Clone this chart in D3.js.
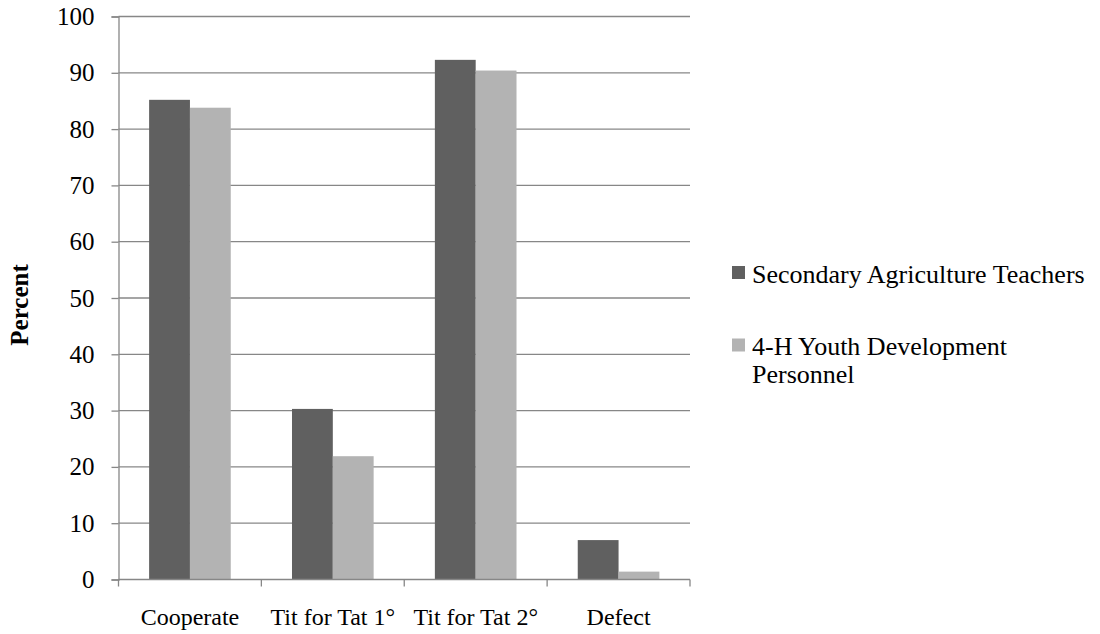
<!DOCTYPE html>
<html><head><meta charset="utf-8">
<script src="https://cdn.jsdelivr.net/npm/d3@7"></script>
<style>body{margin:0;background:#fff}svg{display:block}</style>
</head><body>
<script>
const categories = ["Cooperate", "Tit for Tat 1°", "Tit for Tat 2°", "Defect"];
const seriesNames = ["Secondary Agriculture Teachers", "4-H Youth Development Personnel"];
const teachers = [85.2, 30.3, 92.3, 7.0];
const youth = [83.8, 21.9, 90.4, 1.4];
const yTicks = [0, 10, 20, 30, 40, 50, 60, 70, 80, 90, 100];
const colors = ["#606060", "#b3b3b3"];

const FONT = '"Liberation Serif", "Times New Roman", serif';
const W = 1100, H = 634;
const m = {left: 118.5, right: 690, top: 16.5, bottom: 579.5};
const svg = d3.select("body").append("svg").attr("width", W).attr("height", H);

const x = d3.scaleBand().domain(categories).range([m.left, m.right]).paddingInner(0).paddingOuter(0);
const y = d3.scaleLinear().domain([0, 100]).range([m.bottom, m.top]);
const bw = x.bandwidth() / 3.5;
const x1 = d3.scaleBand().domain([0, 1]).range([bw * 0.75, bw * 2.75]).padding(0);

// gridlines
svg.append("g").selectAll("line").data(yTicks.filter(d => d > 0)).join("line")
  .attr("x1", m.left).attr("x2", m.right)
  .attr("y1", d => y(d)).attr("y2", d => y(d))
  .attr("stroke", "#878787").attr("stroke-width", 1.3);

// bars
const series = [teachers, youth];
const g = svg.append("g");
series.forEach((vals, si) => {
  g.selectAll(".s" + si).data(vals).join("rect")
    .attr("class", "s" + si)
    .attr("x", (d, i) => x(categories[i]) + x1(si))
    .attr("width", x1.bandwidth())
    .attr("y", d => y(d))
    .attr("height", d => y(0) - y(d))
    .attr("fill", colors[si]);
});

// y axis
const yAxis = d3.axisLeft(y).tickValues(yTicks).tickSize(7).tickPadding(17).tickFormat(d3.format("d"));
const ya = svg.append("g").attr("transform", `translate(${m.left},0)`).call(yAxis);
ya.select(".domain").attr("stroke", "#878787").attr("stroke-width", 1.3);
ya.selectAll(".tick line").attr("stroke", "#878787").attr("stroke-width", 1.3);
ya.selectAll(".tick text").style("font-size", "25px").style("font-family", FONT).attr("fill", "#000");

// x axis
const xa = svg.append("g").attr("transform", `translate(0,${m.bottom})`)
  .call(d3.axisBottom(x).tickSize(0).tickPadding(0));
xa.select(".domain").remove();
xa.selectAll(".tick text").style("font-size", "24px").style("font-family", FONT).attr("fill", "#000")
  .attr("y", 45.5).attr("dy", 0);
svg.append("line").attr("x1", m.left).attr("x2", m.right).attr("y1", m.bottom).attr("y2", m.bottom)
  .attr("stroke", "#878787").attr("stroke-width", 1.3);
const bounds = categories.map(c => x(c)).concat([m.right]);
svg.append("g").selectAll("line").data(bounds).join("line")
  .attr("x1", d => d).attr("x2", d => d).attr("y1", m.bottom).attr("y2", m.bottom + 7)
  .attr("stroke", "#878787").attr("stroke-width", 1.3);

// y title
svg.append("text").attr("transform", "translate(28,305) rotate(-90)")
  .attr("text-anchor", "middle").style("font-size", "25px").style("font-weight", "bold")
  .style("font-family", FONT).text("Percent");

// legend
const leg = svg.append("g");
const legY = [266, 338.5];
const legLines = [["Secondary Agriculture Teachers"], ["4-H Youth Development", "Personnel"]];
seriesNames.forEach((n, i) => {
  leg.append("rect").attr("x", 732).attr("y", legY[i]).attr("width", 13).attr("height", 13).attr("fill", colors[i]);
  const t = leg.append("text").attr("x", 752).attr("y", legY[i] + 16.5)
    .style("font-size", "26px").style("font-family", FONT);
  legLines[i].forEach((l, j) => t.append("tspan").attr("x", 752).attr("dy", j ? 28 : 0).text(l));
});
</script>
</body></html>
